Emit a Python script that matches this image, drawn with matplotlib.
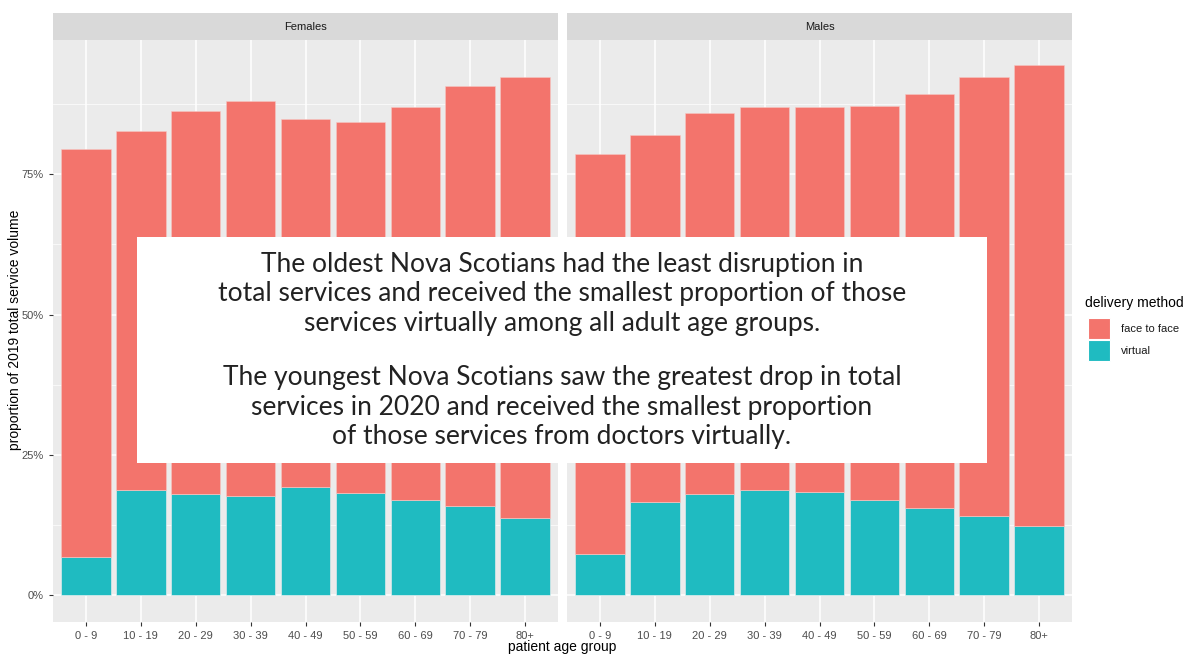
import numpy as np
import matplotlib.pyplot as plt
from matplotlib.patches import Rectangle

age_groups = ["0 - 9", "10 - 19", "20 - 29", "30 - 39", "40 - 49",
              "50 - 59", "60 - 69", "70 - 79", "80+"]
panels = ["Females", "Males"]
# proportion of 2019 volume (%), stacked: virtual at bottom, face to face on top
virtual = {
    "Females": [6.9, 18.8, 18.1, 17.7, 19.3, 18.3, 17.0, 16.0, 13.7],
    "Males": [7.4, 16.7, 18.1, 18.8, 18.4, 17.0, 15.6, 14.2, 12.4],
}
face_to_face = {
    "Females": [72.5, 63.8, 68.1, 70.4, 65.5, 65.9, 69.9, 74.6, 78.5],
    "Males": [71.1, 65.2, 67.7, 68.1, 68.5, 70.1, 73.7, 78.0, 82.1],
}
y_ticks = [0, 25, 50, 75]
y_labels = ["0%", "25%", "50%", "75%"]
legend_title = "delivery method"
legend_labels = ["face to face", "virtual"]
note = ("The oldest Nova Scotians had the least disruption in\n"
        "total services and received the smallest proportion of those\n"
        "services virtually among all adult age groups.")
note2 = ("The youngest Nova Scotians saw the greatest drop in total\n"
         "services in 2020 and received the smallest proportion\n"
         "of those services from doctors virtually.")

plt.rcParams["font.family"] = ["Liberation Sans", "DejaVu Sans"]
red = "#F3746C"
teal = "#1FBBC1"
W, H = 1191, 654

fig = plt.figure(figsize=(W / 100, H / 100), dpi=100)
x = np.arange(len(age_groups))
ymax = max(np.add(virtual[p], face_to_face[p]).max() for p in panels)
ylim = (-0.05 * ymax, ymax * 1.05)

lefts = [53, 567]
pw = 505
for i, p in enumerate(panels):
    ax = fig.add_axes([lefts[i] / W, 1 - 622 / H, pw / W, (622 - 38) / H])
    ax.set_facecolor("#EBEBEB")
    for s in ax.spines.values():
        s.set_visible(False)
    ax.set_xlim(-0.6, len(age_groups) - 0.4)
    ax.set_ylim(*ylim)
    ax.set_yticks(y_ticks)
    ax.set_yticks([12.5, 37.5, 62.5, 87.5], minor=True)
    ax.set_xticks(x)
    ax.grid(True, which="major", color="white", linewidth=1.1)
    ax.grid(True, which="minor", axis="y", color="white", linewidth=0.5)
    ax.set_axisbelow(True)
    ax.bar(x, virtual[p], width=0.9, color=teal, edgecolor="#f0f0f0", linewidth=0.4)
    ax.bar(x, face_to_face[p], bottom=virtual[p], width=0.9, color=red,
           edgecolor="#f5c8c4", linewidth=0.4)
    ax.set_xticklabels(age_groups, fontsize=8, color="#4d4d4d")
    ax.tick_params(axis="both", which="major", length=3, color="#333333", width=0.8)
    ax.tick_params(axis="y", which="minor", length=0)
    if i == 0:
        ax.set_yticklabels(y_labels, fontsize=8, color="#4d4d4d")
    else:
        ax.tick_params(axis="y", which="major", left=False, labelleft=False)
    # facet strip
    sax = fig.add_axes([lefts[i] / W, 1 - 40 / H, pw / W, 27 / H])
    sax.set_facecolor("#D9D9D9")
    sax.set_xticks([])
    sax.set_yticks([])
    for s in sax.spines.values():
        s.set_visible(False)
    sax.text(0.5, 0.5, p, ha="center", va="center", fontsize=8, color="#1a1a1a")

fig.text(562 / W, 1 - 647 / H, "patient age group", ha="center", va="center",
         fontsize=10, color="black")
fig.text(15 / W, 1 - 330 / H, "proportion of 2019 total service volume",
         ha="center", va="center", rotation=90, fontsize=10, color="black")

# legend
fig.text(1085 / W, 1 - 303 / H, legend_title, ha="left", va="center", fontsize=10)
for k, (lab, col) in enumerate(zip(legend_labels, [red, teal])):
    top = 318 + k * 22
    fig.patches.append(Rectangle((1088 / W, 1 - (top + 21) / H), 22 / W, 21 / H,
                                 transform=fig.transFigure, facecolor=col,
                                 edgecolor="white", linewidth=0.8))
    fig.text(1121 / W, 1 - (top + 10.5) / H, lab, ha="left", va="center",
             fontsize=8, color="#1a1a1a")

# annotation box
fig.patches.append(Rectangle((137 / W, 1 - 463 / H), 850 / W, 226 / H,
                             transform=fig.transFigure, facecolor="white",
                             edgecolor="none", zorder=5))
for txt, yc in [(note, 294), (note2, 407)]:
    fig.text(562 / W, 1 - yc / H, txt, ha="center", va="center", fontsize=19,
             family=["Lato", "DejaVu Sans"], color="#222222", linespacing=1.22,
             zorder=6)

fig.savefig("out.png", dpi=100)
